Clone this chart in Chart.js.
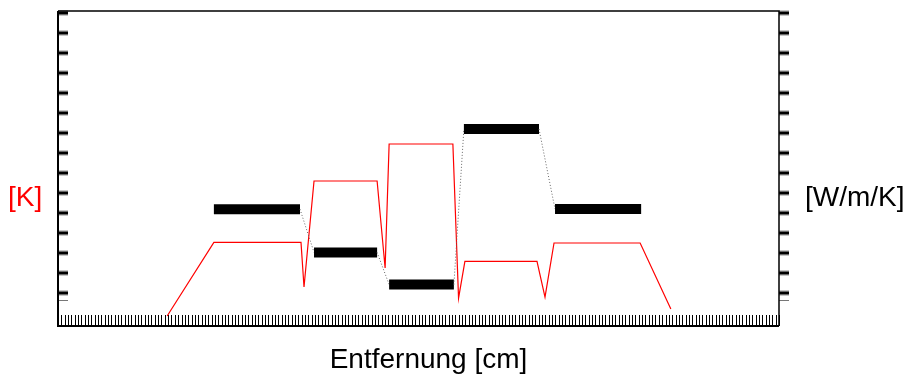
<!DOCTYPE html>
<html>
<head>
<meta charset="utf-8">
<script src="https://cdn.jsdelivr.net/npm/chart.js@4.4.1/dist/chart.umd.min.js"></script>
<style>
  html, body { margin: 0; padding: 0; background: #fff; }
  canvas { display: block; }
</style>
</head>
<body>
<canvas id="profil" width="906" height="376"></canvas>
<script>
// Temperaturverlauf durch den Wandaufbau (rot, linke Achse)
const tempX = [32.7, 46.7, 72.8, 73.7, 76.7, 95.6, 98.0, 99.2, 118.3, 120.0, 121.9, 143.5, 145.9, 148.6, 174.4, 183.6];
const tempK = [0.5, 4.18, 4.18, 1.95, 7.25, 7.25, 2.9, 9.1, 9.1, 1.39, 3.23, 3.23, 1.44, 4.15, 4.15, 0.85];

// Wärmeleitfähigkeit je Schicht (schwarz, rechte Achse): Anfang/Ende jeder Schicht
const lambdaX = [46.7, 72.5, 76.7, 95.6, 99.2, 118.6, 121.6, 144.1, 148.9, 174.7];
const lambdaW = [5.84, 5.84, 3.68, 3.68, 2.07, 2.07, 9.85, 9.85, 5.85, 5.85];

// Achsen
const xMin = 0, xMax = 216, xStep = 1;
const yMin = 0, yMax = 15.75;
const yTicks = [1.65, 2.65, 3.65, 4.65, 5.65, 6.65, 7.65, 8.65, 9.65, 10.65, 11.65, 12.65, 13.65, 14.65, 15.65];
const yNull = 1.3;

const labelLeft = '[K]';
const labelRight = '[W/m/K]';
const labelBottom = 'Entfernung [cm]';

const FONT = '28px "Liberation Sans", Arial, sans-serif';

const toPoints = (xs, ys) => xs.map((x, i) => ({ x, y: ys[i] }));

// Rahmen, Tickmarken und Beschriftung
const rahmen = {
  id: 'rahmen',
  afterDraw(chart) {
    const { ctx, chartArea: a, scales } = chart;
    ctx.save();

    // x-Ticks nach innen
    ctx.strokeStyle = '#000';
    ctx.lineWidth = 1;
    ctx.beginPath();
    scales.x.ticks.forEach(t => {
      const px = Math.round(scales.x.getPixelForValue(t.value)) + 0.5;
      ctx.moveTo(px, a.bottom);
      ctx.lineTo(px, a.bottom - 11);
    });
    ctx.stroke();

    // y-Ticks: links nach innen, rechts nach außen
    const tick = (x0, py) => {
      ctx.strokeStyle = 'rgba(0,0,0,0.45)';
      ctx.lineWidth = 5;
      ctx.beginPath(); ctx.moveTo(x0, py); ctx.lineTo(x0 + 10, py); ctx.stroke();
      ctx.strokeStyle = '#000';
      ctx.lineWidth = 2.5;
      ctx.beginPath(); ctx.moveTo(x0, py); ctx.lineTo(x0 + 10, py); ctx.stroke();
    };
    yTicks.forEach(v => {
      tick(a.left, scales.y.getPixelForValue(v));
      tick(a.right, scales.y2.getPixelForValue(v));
    });
    ctx.strokeStyle = '#777';
    ctx.lineWidth = 1;
    const pn = Math.round(scales.y.getPixelForValue(yNull)) + 0.5;
    ctx.beginPath();
    ctx.moveTo(a.left, pn); ctx.lineTo(a.left + 10, pn);
    ctx.moveTo(a.right, pn); ctx.lineTo(a.right + 10, pn);
    ctx.stroke();

    // Rahmen
    ctx.strokeStyle = '#000';
    ctx.lineWidth = 1.5;
    ctx.beginPath();
    ctx.moveTo(a.left, a.top); ctx.lineTo(a.right, a.top); ctx.lineTo(a.right, a.bottom);
    ctx.stroke();
    ctx.lineWidth = 2;
    ctx.beginPath();
    ctx.moveTo(a.left, a.top); ctx.lineTo(a.left, a.bottom); ctx.lineTo(a.right, a.bottom);
    ctx.stroke();

    // Beschriftung
    ctx.font = FONT;
    ctx.textBaseline = 'alphabetic';
    ctx.fillStyle = '#ff0000';
    ctx.textAlign = 'left';
    ctx.fillText(labelLeft, 8, 206);
    ctx.fillStyle = '#000';
    ctx.fillText(labelRight, 805, 206);
    ctx.textAlign = 'center';
    ctx.fillText(labelBottom, (a.left + a.right) / 2 + 10, 368);

    ctx.restore();
  }
};

new Chart(document.getElementById('profil'), {
  type: 'line',
  data: {
    datasets: [
      {
        label: 'Wärmeleitfähigkeit',
        data: toPoints(lambdaX, lambdaW),
        yAxisID: 'y2',
        borderColor: '#000',
        borderWidth: 10,
        borderCapStyle: 'butt',
        pointRadius: 0,
        tension: 0,
        segment: {
          borderWidth: c => (c.p0DataIndex % 2 === 0 ? 10 : 1),
          borderColor: c => (c.p0DataIndex % 2 === 0 ? '#000' : '#666'),
          borderDash: c => (c.p0DataIndex % 2 === 0 ? [] : [1, 2])
        }
      },
      {
        label: 'Temperatur',
        data: toPoints(tempX, tempK),
        yAxisID: 'y',
        borderColor: '#ff0000',
        borderWidth: 1.2,
        pointRadius: 0,
        tension: 0
      }
    ]
  },
  options: {
    responsive: false,
    animation: false,
    devicePixelRatio: 1,
    layout: { padding: { left: 58, right: 127, top: 11, bottom: 50 } },
    plugins: { legend: { display: false }, tooltip: { enabled: false } },
    scales: {
      x: { type: 'linear', display: false, min: xMin, max: xMax, ticks: { stepSize: xStep, autoSkip: false } },
      y: { type: 'linear', display: false, min: yMin, max: yMax },
      y2: { type: 'linear', display: false, min: yMin, max: yMax, position: 'right' }
    }
  },
  plugins: [rahmen]
});
</script>
</body>
</html>
